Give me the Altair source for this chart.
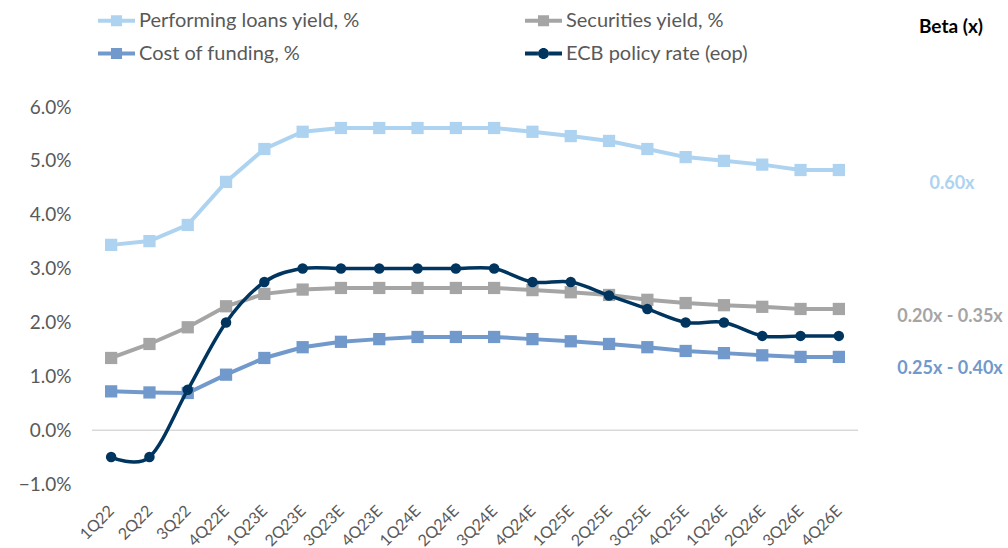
import altair as alt
import pandas as pd

quarters = ["1Q22", "2Q22", "3Q22", "4Q22E", "1Q23E", "2Q23E", "3Q23E", "4Q23E",
            "1Q24E", "2Q24E", "3Q24E", "4Q24E", "1Q25E", "2Q25E", "3Q25E", "4Q25E",
            "1Q26E", "2Q26E", "3Q26E", "4Q26E"]
perf_loans = [3.44, 3.51, 3.81, 4.61, 5.22, 5.54, 5.61, 5.61, 5.61, 5.61, 5.61, 5.54,
              5.46, 5.37, 5.22, 5.07, 5.00, 4.93, 4.83, 4.83]
securities = [1.34, 1.60, 1.91, 2.30, 2.53, 2.61, 2.64, 2.64, 2.64, 2.64, 2.64, 2.60,
              2.56, 2.51, 2.42, 2.36, 2.32, 2.29, 2.25, 2.25]
cost_funding = [0.72, 0.70, 0.69, 1.03, 1.34, 1.54, 1.64, 1.69, 1.73, 1.73, 1.73, 1.69,
                1.65, 1.60, 1.54, 1.47, 1.43, 1.39, 1.36, 1.36]
ecb_rate = [-0.50, -0.50, 0.75, 2.00, 2.75, 3.00, 3.00, 3.00, 3.00, 3.00, 3.00, 2.75,
            2.75, 2.50, 2.25, 2.00, 2.00, 1.75, 1.75, 1.75]

series_names = ["Performing loans yield, %", "Securities yield, %",
                "Cost of funding, %", "ECB policy rate (eop)"]
series_colors = ["#ADD3F0", "#A5A5A5", "#7199CB", "#00355F"]
y_ticks = [-1, 0, 1, 2, 3, 4, 5, 6]

beta_title = "Beta (x)"
beta_labels = ["0.60x", "0.20x - 0.35x", "0.25x - 0.40x"]

rows = []
for name, vals in zip(series_names, [perf_loans, securities, cost_funding, ecb_rate]):
    for q, v in zip(quarters, vals):
        rows.append({"quarter": q, "value": v, "series": name})
df = pd.DataFrame(rows)

FONT = "Lato"
LABEL_COLOR = "#595959"

x_enc = alt.X("quarter:N", sort=quarters,
              scale=alt.Scale(type="point", padding=0.5),
              axis=alt.Axis(title=None, labelAngle=-45, labelAlign="right",
                            labelBaseline="middle", labelPadding=24,
                            domain=False, ticks=False, labelFontSize=16,
                            labelColor=LABEL_COLOR, labelFont=FONT))
y_enc = alt.Y("value:Q", scale=alt.Scale(domain=[-1, 6], nice=False, zero=False),
              axis=alt.Axis(title=None, values=y_ticks, grid=False, domain=False,
                            ticks=False, labelPadding=21, labelFontSize=19,
                            labelColor=LABEL_COLOR, labelFont=FONT,
                            labelExpr="format(datum.value, '.1f') + '%'"))
# line/marker colours: data-sorted domain (kept distinct from the legend's scales)
color_enc = alt.Color("series:N", sort=series_names,
                      scale=alt.Scale(range=series_colors), legend=None)

base = alt.Chart(df)

zero_rule = alt.Chart(pd.DataFrame({"v": [0]})).mark_rule(
    color="#D9D9D9", strokeWidth=1.5).encode(y=alt.Y("v:Q"))

straight = base.transform_filter(
    alt.datum.series != series_names[3]
).mark_line(strokeWidth=4).encode(x=x_enc, y=y_enc, color=color_enc, detail="series:N")

squares = base.transform_filter(
    alt.datum.series != series_names[3]
).mark_square(size=150, opacity=1).encode(x=x_enc, y=y_enc, color=color_enc)

ecb_line = base.transform_filter(
    alt.datum.series == series_names[3]
).mark_line(strokeWidth=3.5, interpolate="cardinal").encode(x=x_enc, y=y_enc, color=color_enc)

ecb_pts = base.transform_filter(
    alt.datum.series == series_names[3]
).mark_circle(size=110, opacity=1).encode(x=x_enc, y=y_enc, color=color_enc)

sq_path = "M-1,-0.11H-0.3V0.11H-1Z M0.3,-0.11H1V0.11H0.3Z M-0.3,-0.3H0.3V0.3H-0.3Z"
ci_path = ("M-1,-0.11H-0.3V0.11H-1Z M0.3,-0.11H1V0.11H0.3Z "
           "M-0.3,0A0.3,0.3 0 1,1 0.3,0A0.3,0.3 0 1,1 -0.3,0Z")

legend_def = alt.Legend(title=None, orient="none", legendX=6, legendY=-105,
                        direction="horizontal", columns=2, columnPadding=165,
                        rowPadding=4,
                        symbolSize=1369, symbolStrokeWidth=0,
                        labelFontSize=20, labelColor=LABEL_COLOR,
                        labelFont=FONT, labelOffset=4, labelLimit=400)

legend_layer = base.mark_point(filled=True, size=1, strokeWidth=0, opacity=1).encode(
    x=x_enc, y=y_enc,
    fill=alt.Fill("series:N", scale=alt.Scale(domain=series_names, range=series_colors),
                  legend=legend_def),
    shape=alt.Shape("series:N",
                    scale=alt.Scale(domain=series_names,
                                    range=[sq_path, sq_path, sq_path, ci_path]),
                    legend=legend_def),
)

def note(text, px, py, color, size=18):
    return alt.Chart(pd.DataFrame({"t": [text]})).mark_text(
        font=FONT, fontSize=size, fontWeight="bold", color=color, align="center",
        baseline="middle").encode(x=alt.value(px), y=alt.value(py), text="t:N")

notes = [
    note(beta_title, 859, -80, "#000000", 19),
    note(beta_labels[0], 860, 77, series_colors[0]),
    note(beta_labels[1], 858, 210, series_colors[1]),
    note(beta_labels[2], 858, 262, series_colors[2]),
]

chart = alt.layer(zero_rule, straight, squares, ecb_line, ecb_pts, legend_layer, *notes).properties(
    width=766, height=377,
    background="white",
    autosize=alt.AutoSizeParams(type="none"),
    padding={"left": 92, "top": 107, "right": 150, "bottom": 64},
).configure_view(strokeWidth=0, stroke="transparent")

chart.save("out.html", embed_options={"renderer": "svg", "actions": False})
